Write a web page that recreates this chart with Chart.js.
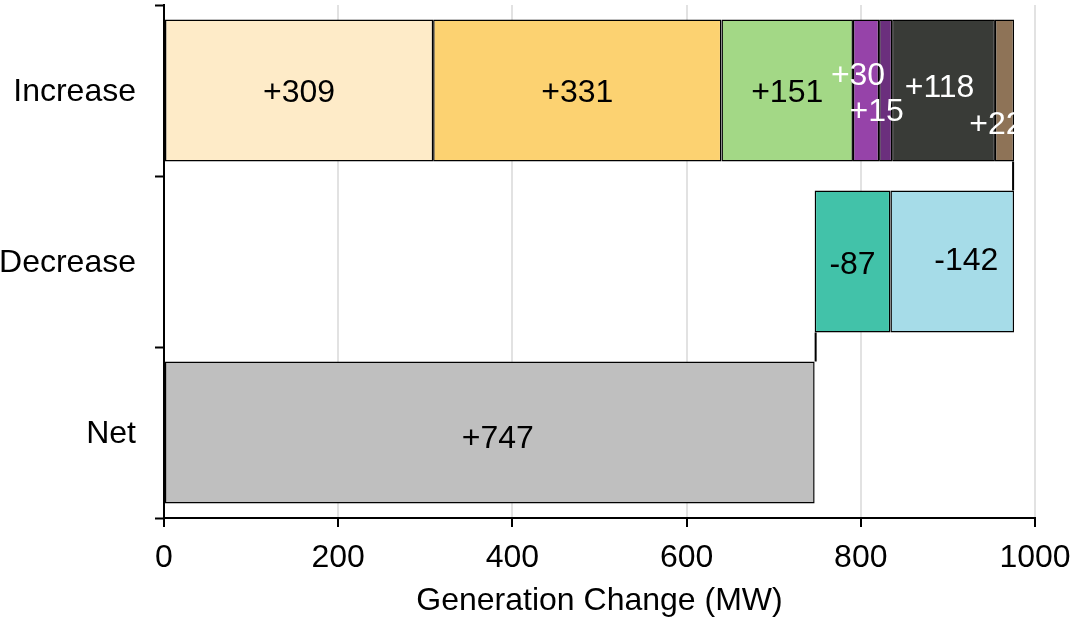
<!DOCTYPE html>
<html>
<head>
<meta charset="utf-8">
<script src="https://cdn.jsdelivr.net/npm/chart.js@4.4.1/dist/chart.umd.min.js"></script>
<style>
  html, body { margin: 0; padding: 0; background: #fff; }
  #wrap { width: 1074px; height: 618px; }
</style>
</head>
<body>
<div id="wrap"><canvas id="chart" width="1074" height="618"></canvas></div>
<script>
// data
const categories = ['Increase', 'Decrease', 'Net'];
const increaseValues = [309, 331, 151, 30, 15, 118, 22];
const decreaseValues = [-142, -87];
const netValue = 747;
const xTicks = [0, 200, 400, 600, 800, 1000];

// styles
const increaseColors = ['#FEEBC8', '#FCD271', '#A3D886', '#9643A9', '#6B2F7D', '#393B37', '#8E7357'];
const increaseText = ['#000', '#000', '#000', '#fff', '#fff', '#fff', '#fff'];
const decreaseColors = ['#A6DCE8', '#42C2A9'];
const netColor = '#BFBFBF';
// small nudges so the labels of thin segments don't collide (px)
const increaseNudge = [[0, 0], [0, 0], [0, 0], [-8, -17], [-9, 19], [-4, -5], [-8, 32]];
const decreaseNudge = [[14, -3], [0, 1]];
const netNudge = [8, 4];

const FONT = 'Liberation Sans, Arial, sans-serif';
const FS = 32;

// build the floating segments
const segments = [];
let pos = 0;
increaseValues.forEach((v, i) => {
    segments.push({ cat: 0, from: pos, to: pos + v, value: v, color: increaseColors[i], text: increaseText[i], nudge: increaseNudge[i] });
    pos += v;
});
const totalIncrease = pos;
decreaseValues.forEach((v, i) => {
    segments.push({ cat: 1, from: pos + v, to: pos, value: v, color: decreaseColors[i], text: '#000', nudge: decreaseNudge[i] });
    pos += v;
});
segments.push({ cat: 2, from: 0, to: netValue, value: netValue, color: netColor, text: '#000', nudge: netNudge });

const datasets = segments.map(s => ({
    data: categories.map((c, j) => j === s.cat ? [s.from, s.to] : null),
    backgroundColor: s.color,
    borderColor: '#000',
    borderWidth: 1.5,
    borderSkipped: false,
    grouped: false,
    barPercentage: 0.83,
    categoryPercentage: 1
}));

const fmt = v => (v > 0 ? '+' + v : String(v));

const segmentLabels = {
    id: 'segmentLabels',
    afterDatasetsDraw(chart) {
        const ctx = chart.ctx;
        ctx.save();
        ctx.font = FS + 'px ' + FONT;
        ctx.textAlign = 'center';
        ctx.textBaseline = 'middle';
        segments.forEach((s, i) => {
            const el = chart.getDatasetMeta(i).data[s.cat];
            const cx = (el.x + el.base) / 2 + s.nudge[0];
            const cy = el.y + s.nudge[1] + 3;
            ctx.fillStyle = s.text;
            ctx.fillText(fmt(s.value), cx, cy);
        });
        ctx.restore();
    }
};

const connectors = {
    id: 'connectors',
    afterDatasetsDraw(chart) {
        const ctx = chart.ctx;
        const xs = chart.scales.x;
        const inc = chart.getDatasetMeta(0).data[0];
        const dec = chart.getDatasetMeta(increaseValues.length).data[1];
        const net = chart.getDatasetMeta(segments.length - 1).data[2];
        ctx.save();
        ctx.strokeStyle = '#000';
        ctx.lineWidth = 2;
        ctx.beginPath();
        let x = xs.getPixelForValue(totalIncrease);
        ctx.moveTo(x - 1, inc.y + inc.height / 2);
        ctx.lineTo(x - 1, dec.y - dec.height / 2);
        x = xs.getPixelForValue(netValue);
        ctx.moveTo(x + 1, dec.y + dec.height / 2);
        ctx.lineTo(x + 1, net.y - net.height / 2);
        ctx.stroke();
        ctx.restore();
    }
};

new Chart(document.getElementById('chart'), {
    type: 'bar',
    data: { labels: categories, datasets: datasets },
    options: {
        indexAxis: 'y',
        responsive: false,
        animation: false,
        devicePixelRatio: 1,
        layout: { padding: { top: 5, right: 39, left: 0, bottom: 0 } },
        plugins: { legend: { display: false }, tooltip: { enabled: false } },
        scales: {
            x: {
                min: 0,
                max: 1000,
                afterBuildTicks: scale => { scale.ticks = xTicks.map(v => ({ value: v })); },
                afterFit: scale => { scale.height = 100; scale.paddingLeft = 0; scale.paddingRight = 0; },
                grid: { color: '#e2e2e2', lineWidth: 2, tickColor: '#000', tickLength: 9, tickWidth: 2 },
                border: { color: '#000', width: 2 },
                ticks: { color: '#000', font: { family: FONT, size: FS }, padding: 12, maxRotation: 0, callback: v => String(v) },
                title: { display: true, text: 'Generation Change (MW)', color: '#000', font: { family: FONT, size: FS, lineHeight: 1 }, padding: { top: 0, bottom: 1 } }
            },
            y: {
                afterFit: scale => { scale.width = 164; scale.paddingTop = 0; scale.paddingBottom = 0; },
                grid: { drawOnChartArea: false, tickColor: '#000', tickLength: 9, tickWidth: 2 },
                border: { color: '#000', width: 2 },
                ticks: { color: '#000', font: { family: FONT, size: FS }, padding: 19, labelOffset: 2 }
            }
        }
    },
    plugins: [segmentLabels, connectors]
});
</script>
</body>
</html>
